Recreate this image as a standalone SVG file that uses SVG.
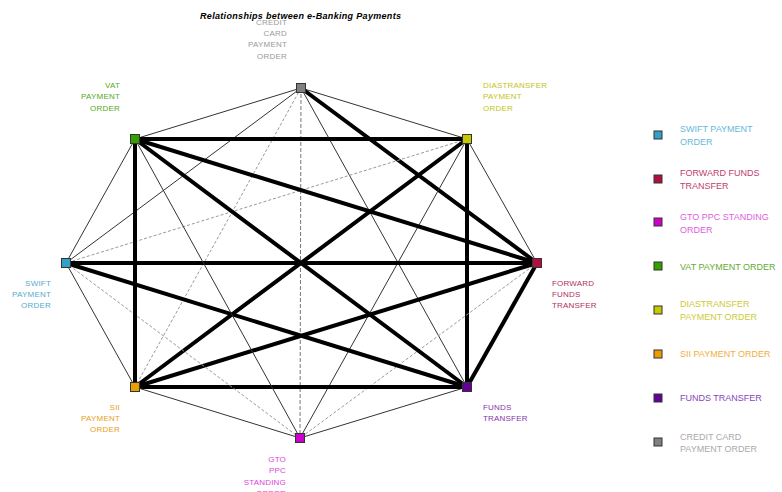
<svg xmlns="http://www.w3.org/2000/svg" width="782" height="492" viewBox="0 0 782 492">
<style>
.thick{stroke:#000;stroke-width:4;fill:none}
.thin{stroke:#333;stroke-width:1;fill:none}
.dash{stroke:#999;stroke-width:1;stroke-dasharray:3 2;fill:none}
.vdash{stroke:#777;stroke-width:1;stroke-dasharray:4 2;fill:none}
.nd{stroke:#333;stroke-width:1}
.lb{font-family:"Liberation Sans",Arial,sans-serif;font-size:8px;letter-spacing:0.2px}
.lg{font-family:"Liberation Sans",Arial,sans-serif;font-size:9px}
.r{text-anchor:end}
.title{font-family:"Liberation Sans",Arial,sans-serif;font-size:9px;font-weight:bold;font-style:italic;fill:#000}
</style>
<rect width="782" height="492" fill="#fff"/>
<text class="title" x="200" y="19" textLength="201">Relationships between e-Banking Payments</text>
<g id="connectors">
<line class="thin" x1="301" y1="88" x2="467" y2="139"/>
<line class="thick" x1="301" y1="88" x2="537" y2="263"/>
<line class="thin" x1="301" y1="88" x2="467" y2="387"/>
<line class="vdash" x1="301" y1="88" x2="300" y2="438"/>
<line class="dash" x1="301" y1="88" x2="135" y2="387"/>
<line class="thin" x1="301" y1="88" x2="66" y2="263"/>
<line class="thin" x1="301" y1="88" x2="135" y2="139"/>
<line class="thin" x1="467" y1="139" x2="537" y2="263"/>
<line class="thick" x1="467" y1="139" x2="467" y2="387"/>
<line class="thin" x1="467" y1="139" x2="300" y2="438"/>
<line class="thick" x1="467" y1="139" x2="135" y2="387"/>
<line class="dash" x1="467" y1="139" x2="66" y2="263"/>
<line class="thick" x1="467" y1="139" x2="135" y2="139"/>
<line class="thick" x1="537" y1="263" x2="467" y2="387"/>
<line class="dash" x1="537" y1="263" x2="300" y2="438"/>
<line class="thick" x1="537" y1="263" x2="135" y2="387"/>
<line class="thick" x1="537" y1="263" x2="66" y2="263"/>
<line class="thick" x1="537" y1="263" x2="135" y2="139"/>
<line class="thin" x1="467" y1="387" x2="300" y2="438"/>
<line class="thick" x1="467" y1="387" x2="135" y2="387"/>
<line class="thick" x1="467" y1="387" x2="66" y2="263"/>
<line class="thick" x1="467" y1="387" x2="135" y2="139"/>
<line class="thin" x1="300" y1="438" x2="135" y2="387"/>
<line class="dash" x1="300" y1="438" x2="66" y2="263"/>
<line class="thin" x1="300" y1="438" x2="135" y2="139"/>
<line class="thin" x1="135" y1="387" x2="66" y2="263"/>
<line class="thick" x1="135" y1="387" x2="135" y2="139"/>
<line class="thin" x1="66" y1="263" x2="135" y2="139"/>
</g>
<g id="node-credit">
<rect class="nd" x="296.5" y="83.5" width="9" height="9" fill="#808080"/>
<text class="lb r" fill="#9a9a9a"><tspan x="287" y="25">CREDIT</tspan><tspan x="287" y="36">CARD</tspan><tspan x="287" y="47">PAYMENT</tspan><tspan x="287" y="59">ORDER</tspan></text>
</g>
<g id="node-dias">
<rect class="nd" x="462.5" y="134.5" width="9" height="9" fill="#c8c800"/>
<text class="lb" fill="#c4c420"><tspan x="483" y="88">DIASTRANSFER</tspan><tspan x="483" y="99">PAYMENT</tspan><tspan x="483" y="111">ORDER</tspan></text>
</g>
<g id="node-forward">
<rect class="nd" x="532.5" y="258.5" width="9" height="9" fill="#b0103f"/>
<text class="lb" fill="#b03060"><tspan x="552" y="286">FORWARD</tspan><tspan x="552" y="297">FUNDS</tspan><tspan x="552" y="308">TRANSFER</tspan></text>
</g>
<g id="node-funds">
<rect class="nd" x="462.5" y="382.5" width="9" height="9" fill="#660099"/>
<text class="lb" fill="#8833aa"><tspan x="483" y="410">FUNDS</tspan><tspan x="483" y="421">TRANSFER</tspan></text>
</g>
<g id="node-gto">
<rect class="nd" x="295.5" y="433.5" width="9" height="9" fill="#cc00cc"/>
<text class="lb r" fill="#dd44dd"><tspan x="286" y="462">GTO</tspan><tspan x="286" y="473">PPC</tspan><tspan x="286" y="485">STANDING</tspan><tspan x="286" y="496">ORDER</tspan></text>
</g>
<g id="node-sii">
<rect class="nd" x="130.5" y="382.5" width="9" height="9" fill="#e8a000"/>
<text class="lb r" fill="#e8a020"><tspan x="120" y="410">SII</tspan><tspan x="120" y="421">PAYMENT</tspan><tspan x="120" y="432">ORDER</tspan></text>
</g>
<g id="node-swift">
<rect class="nd" x="61.5" y="258.5" width="9" height="9" fill="#33a0c8"/>
<text class="lb r" fill="#55aad0"><tspan x="51" y="286">SWIFT</tspan><tspan x="51" y="297">PAYMENT</tspan><tspan x="51" y="308">ORDER</tspan></text>
</g>
<g id="node-vat">
<rect class="nd" x="130.5" y="134.5" width="9" height="9" fill="#33a000"/>
<text class="lb r" fill="#55aa22"><tspan x="120" y="88">VAT</tspan><tspan x="120" y="99">PAYMENT</tspan><tspan x="120" y="111">ORDER</tspan></text>
</g>
<g id="legend">
<rect class="nd" x="654" y="131" width="8" height="8" fill="#33a0c8"/>
<text class="lg" fill="#66b8d8"><tspan x="680" y="132">SWIFT PAYMENT</tspan><tspan x="680" y="145">ORDER</tspan></text>
<rect class="nd" x="654" y="175" width="8" height="8" fill="#b0103f"/>
<text class="lg" fill="#c04070"><tspan x="680" y="176">FORWARD FUNDS</tspan><tspan x="680" y="189">TRANSFER</tspan></text>
<rect class="nd" x="654" y="218" width="8" height="8" fill="#cc00cc"/>
<text class="lg" fill="#e060e0"><tspan x="680" y="220">GTO PPC STANDING</tspan><tspan x="680" y="233">ORDER</tspan></text>
<rect class="nd" x="654" y="262" width="8" height="8" fill="#33a000"/>
<text class="lg" fill="#66aa33" x="680" y="270">VAT PAYMENT ORDER</text>
<rect class="nd" x="654" y="306" width="8" height="8" fill="#c8c800"/>
<text class="lg" fill="#cccc33"><tspan x="680" y="307">DIASTRANSFER</tspan><tspan x="680" y="320">PAYMENT ORDER</tspan></text>
<rect class="nd" x="654" y="350" width="8" height="8" fill="#e8a000"/>
<text class="lg" fill="#f0b040" x="680" y="357">SII PAYMENT ORDER</text>
<rect class="nd" x="654" y="394" width="8" height="8" fill="#660099"/>
<text class="lg" fill="#8844bb" x="680" y="401">FUNDS TRANSFER</text>
<rect class="nd" x="654" y="438" width="8" height="8" fill="#808080"/>
<text class="lg" fill="#aaaaaa"><tspan x="680" y="440">CREDIT CARD</tspan><tspan x="680" y="452">PAYMENT ORDER</tspan></text>
</g>
</svg>
